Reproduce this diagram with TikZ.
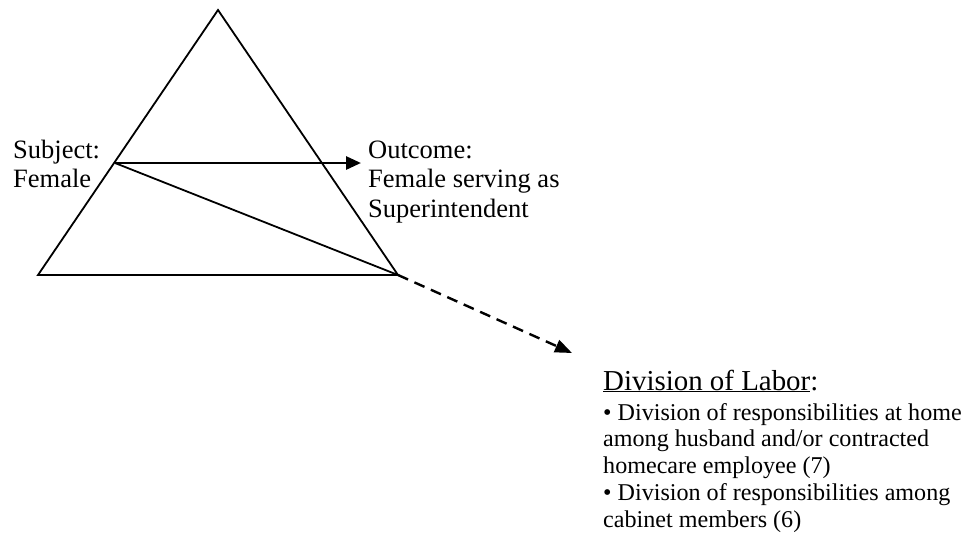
\documentclass[tikz,border=0pt]{standalone}
\usepackage{fontspec}
\setmainfont{Liberation Serif}
\usetikzlibrary{arrows.meta}

\tikzset{
  edgeline/.style={line width=1.8pt, line join=miter},
  flowarrow/.style={line width=2.8pt, -{Triangle[length=15pt,width=13pt]}},
  dasharrow/.style={line width=2.4pt, dash pattern=on 11pt off 7pt, -{Triangle[length=17pt,width=13pt]}},
  toptext/.style={inner sep=0pt, anchor=base west, font=\fontsize{26.5}{29.5}\selectfont},
  headtext/.style={inner sep=0pt, anchor=base west, font=\fontsize{28.9}{30}\selectfont},
  listtext/.style={inner sep=0pt, anchor=base west, font=\fontsize{24.1}{26.8}\selectfont}
}

\begin{document}
\begin{tikzpicture}[x=1pt, y=-1pt]
  \useasboundingbox (0,0) rectangle (963,535);

  % corners of the activity triangle
  \coordinate (apex) at (218,10);
  \coordinate (baseL) at (38,275);
  \coordinate (baseR) at (398,275);
  \coordinate (subj) at (115,163);
  \coordinate (outc) at (361,163);
  \coordinate (divl) at (572,353);

  \draw[edgeline] (apex) -- (baseL) -- (baseR) -- cycle;
  \draw[edgeline] (subj) -- (baseR);
  \draw[flowarrow] (subj) -- (outc);
  \draw[dasharrow] (baseR) -- (divl);

  \node[toptext] (subjtext) at (13,158)
    {\begin{tabular}[t]{@{}l@{}}Subject:\\Female\end{tabular}};
  \node[toptext] (outctext) at (368,158)
    {\begin{tabular}[t]{@{}l@{}}Outcome:\\Female serving as\\Superintendent\end{tabular}};

  \node[headtext] (divhead) at (603,390) {\underline{Division of Labor}:};
  \node[listtext] (divlist) at (603,420)
    {\begin{tabular}[t]{@{}l@{}}%
      • Division of responsibilities at home\\
      among husband and/or contracted\\
      homecare employee (7)\\
      • Division of responsibilities among\\
      cabinet members (6)\end{tabular}};
\end{tikzpicture}
\end{document}
